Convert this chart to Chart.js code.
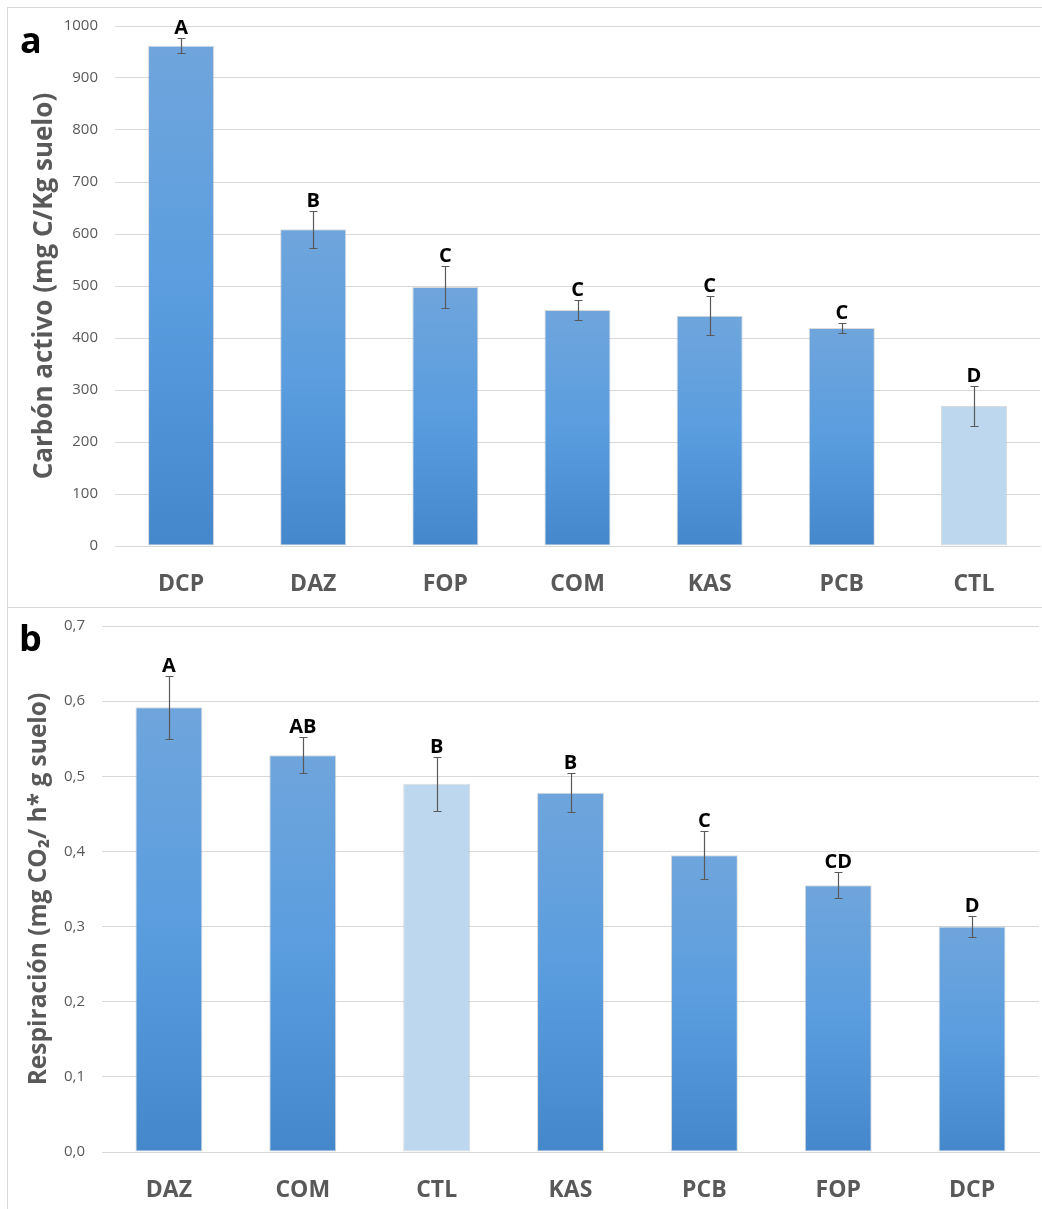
<!DOCTYPE html>
<html>
<head>
<meta charset="utf-8">
<script src="https://cdn.jsdelivr.net/npm/chart.js@4"></script>
<style>
  html, body { margin: 0; padding: 0; background: #fff; }
  body { width: 1042px; height: 1209px; position: relative; overflow: hidden; }
  .panel { position: absolute; left: 7px; width: 1040px; border: 1px solid #d9d9d9; border-right: none; box-sizing: border-box; }
  #panelA { top: 7px; height: 601px; }
  #panelB { top: 607px; height: 610px; }
  canvas { position: absolute; left: 0; top: 0; }
</style>
</head>
<body>
<div class="panel" id="panelA"><canvas id="chartA" width="1034" height="598"></canvas></div>
<div class="panel" id="panelB"><canvas id="chartB" width="1034" height="601"></canvas></div>
<script>
// Panel a: active carbon per treatment
const catsA = ['DCP', 'DAZ', 'FOP', 'COM', 'KAS', 'PCB', 'CTL'];
const carbonActivo = [962, 609, 498, 454, 443, 419, 269];
const carbonErr = [14, 36, 41, 20, 37, 10, 39];
const lettersA = ['A', 'B', 'C', 'C', 'C', 'C', 'D'];
const yTicksA = ['0', '100', '200', '300', '400', '500', '600', '700', '800', '900', '1000'];

// Panel b: soil respiration per treatment
const catsB = ['DAZ', 'COM', 'CTL', 'KAS', 'PCB', 'FOP', 'DCP'];
const respiracion = [0.592, 0.528, 0.490, 0.478, 0.395, 0.355, 0.300];
const respErr = [0.042, 0.024, 0.036, 0.026, 0.032, 0.017, 0.014];
const lettersB = ['A', 'AB', 'B', 'B', 'C', 'CD', 'D'];
const yTicksB = ['0,0', '0,1', '0,2', '0,3', '0,4', '0,5', '0,6', '0,7'];

const FONT = "'Open Sans', 'DejaVu Sans', sans-serif";
const GREY = '#595959';
const GRID = '#d9d9d9';

// Vertical gradient per bar; the control treatment is drawn in a pale blue
function barFill(c) {
  const chart = c.chart;
  if (chart.data.labels[c.dataIndex] === 'CTL') return '#bdd7ee';
  const ys = chart.scales.y;
  if (!ys || !c.parsed) return '#5b9bd5';
  const top = ys.getPixelForValue(c.parsed.y);
  const base = ys.getPixelForValue(0);
  if (!isFinite(top) || !isFinite(base) || top === base) return '#5b9bd5';
  const g = chart.ctx.createLinearGradient(0, top, 0, base);
  g.addColorStop(0, '#6fa5dc');
  g.addColorStop(0.5, '#5a9ddf');
  g.addColorStop(1, '#4488cb');
  return g;
}

// Error bars, significance letters and the panel tag
const errorBars = {
  id: 'errorBars',
  afterDatasetsDraw(chart, args, opts) {
    const ctx = chart.ctx;
    const ys = chart.scales.y;
    const meta = chart.getDatasetMeta(0);
    const vals = chart.data.datasets[0].data;
    ctx.save();
    meta.data.forEach((bar, i) => {
      const v = vals[i], e = opts.errors[i];
      const top = Math.round(ys.getPixelForValue(v + e)) + 0.5;
      const bot = Math.round(ys.getPixelForValue(v - e)) + 0.5;
      const x = Math.round(bar.x) + 0.5;
      ctx.strokeStyle = GREY;
      ctx.lineWidth = 1.2;
      ctx.beginPath();
      ctx.moveTo(x, top); ctx.lineTo(x, bot);
      ctx.moveTo(x - 4, top); ctx.lineTo(x + 4, top);
      ctx.moveTo(x - 4, bot); ctx.lineTo(x + 4, bot);
      ctx.stroke();
      ctx.fillStyle = '#000';
      ctx.font = 'bold 20px ' + FONT;
      ctx.textAlign = 'center';
      ctx.textBaseline = 'alphabetic';
      ctx.fillText(opts.letters[i], bar.x, top - 5);
    });
    ctx.font = 'bold 36px ' + FONT;
    ctx.fillStyle = '#000';
    ctx.textAlign = 'left';
    ctx.textBaseline = 'alphabetic';
    ctx.fillText(opts.tag, opts.tagX, opts.tagY);
    ctx.restore();
  }
};

function makeChart(id, cats, values, marks, ticks, maxV, step, title, titleSize, titlePad, yWidth, xHeight, pad) {
  return new Chart(document.getElementById(id), {
    type: 'bar',
    data: {
      labels: cats,
      datasets: [{
        data: values,
        backgroundColor: barFill,
        borderColor: 'rgba(150,150,150,0.35)',
        borderWidth: 1,
        borderSkipped: false,
        barPercentage: 0.5,
        categoryPercentage: 1.0
      }]
    },
    options: {
      responsive: false,
      animation: false,
      devicePixelRatio: 1,
      layout: { padding: pad },
      plugins: {
        legend: { display: false },
        tooltip: { enabled: false },
        errorBars: marks
      },
      scales: {
        x: {
          grid: { display: false },
          border: { display: true, color: GRID, width: 1 },
          ticks: { color: GREY, font: { family: FONT, size: 23, weight: 'bold' }, padding: 17 },
          afterFit(s) { s.height = xHeight; }
        },
        y: {
          min: 0,
          max: maxV,
          grid: { color: GRID, lineWidth: 1, drawTicks: false },
          border: { display: false },
          ticks: {
            stepSize: step,
            color: GREY,
            padding: 17,
            font: { family: FONT, size: 15 },
            callback: (v, i) => ticks[i]
          },
          title: {
            display: true,
            text: title,
            color: GREY,
            font: { family: FONT, size: titleSize, weight: 'bold' },
            padding: { top: titlePad, bottom: 0 }
          },
          afterFit(s) {
            s.width = yWidth;
            s.paddingTop = 0;
            s.paddingBottom = 0;
          }
        }
      }
    },
    plugins: [errorBars]
  });
}

makeChart('chartA', catsA, carbonActivo,
  { errors: carbonErr, letters: lettersA, tag: 'a', tagX: 12, tagY: 45 },
  yTicksA, 1000, 100, 'Carbón activo (mg C/Kg suelo)', 26, 21, 107, 60,
  { top: 18, right: 2, left: 0, bottom: 0 });

makeChart('chartB', catsB, respiracion,
  { errors: respErr, letters: lettersB, tag: 'b', tagX: 11, tagY: 43 },
  yTicksB, 0.7, 0.1, 'Respiración (mg CO₂/ h* g suelo)', 24.5, 16, 94, 57,
  { top: 18, right: 3, left: 0, bottom: 0 });
</script>
</body>
</html>
